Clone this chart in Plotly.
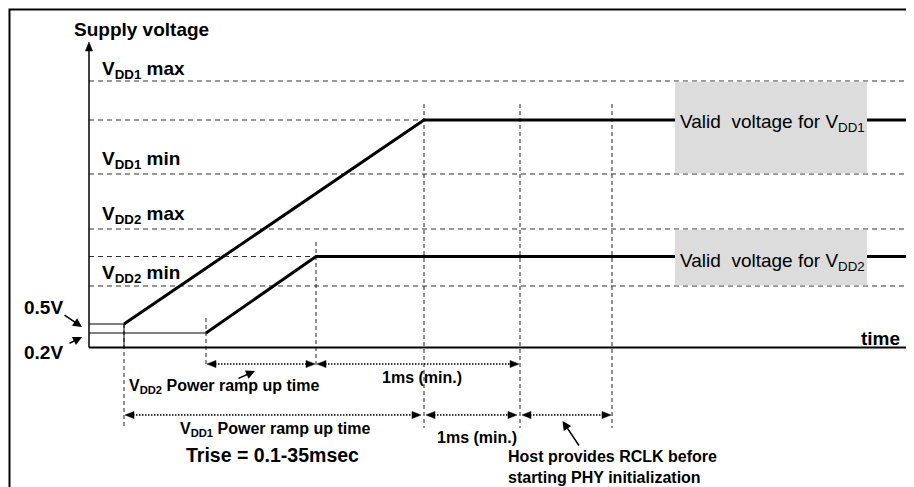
import plotly.graph_objects as go

# time marks, in diagram units measured from the voltage axis
t_vdd1_start = 35
t_vdd2_start = 117
t_vdd2_valid = 227
t_vdd1_valid = 335
t_host_start = 431
t_phy_init = 523
t_end = 825

# voltage levels, in diagram units above 0 V
level_names = ["0.2V", "0.5V", "VDD2 min", "VDD2", "VDD2 max", "VDD1 min", "VDD1", "VDD1 max"]
level_values = [14.5, 23.5, 61.5, 91, 118.5, 173.5, 227.5, 266.5]
lv = dict(zip(level_names, level_values))
v_axis_top = 305.5

# supply ramps
vdd1_t = [t_vdd1_start, t_vdd1_valid, t_end]
vdd1_v = [lv["0.5V"], lv["VDD1"], lv["VDD1"]]
vdd2_t = [t_vdd2_start, t_vdd2_valid, t_end]
vdd2_v = [lv["0.2V"], lv["VDD2"], lv["VDD2"]]

FONT = "Liberation Sans, Arial, sans-serif"
ROW1 = -16.5
ROW2 = -67.5
HEAD_LEN = 9
HEAD_HALF = 3.6

fig = go.Figure()
shapes = []
annotations = []

# dashed level guides
for name in ["VDD2 min", "VDD2", "VDD2 max", "VDD1 min", "VDD1", "VDD1 max"]:
    shapes.append(dict(type="line", xref="x", yref="y", x0=0, x1=t_end, y0=lv[name], y1=lv[name],
                       line=dict(color="#333333", width=1, dash="5px,4px"), layer="below"))

# vertical timing guides (time, top, bottom)
guides = [
    (t_vdd1_start, lv["0.5V"], ROW2 - 13),
    (t_vdd2_start, lv["0.2V"] + 15, ROW1 - 1),
    (t_vdd2_valid, lv["VDD2"] + 14.5, ROW1 - 1),
    (t_vdd1_valid, lv["VDD1"] + 16, ROW2 - 13),
    (t_host_start, lv["VDD1"] + 16, ROW2 - 13),
    (t_phy_init, lv["VDD1"] + 16, ROW2 - 13),
]
for t, top, bot in guides:
    shapes.append(dict(type="line", xref="x", yref="y", x0=t, x1=t, y0=top, y1=bot,
                       line=dict(color="#222222", width=1, dash="4px,3px"), layer="below"))


def head(tip_x, tip_y, dx, dy):
    # filled arrow head, (dx, dy) is the unit direction it points to
    bx, by = tip_x - dx * HEAD_LEN, tip_y - dy * HEAD_LEN
    px, py = -dy * HEAD_HALF, dx * HEAD_HALF
    fig.add_trace(go.Scatter(x=[tip_x, bx + px, bx - px, tip_x], y=[tip_y, by + py, by - py, tip_y],
                             mode="lines", fill="toself", fillcolor="black",
                             line=dict(color="black", width=0.5), hoverinfo="skip"))


# thin boxes marking 0.5 V / 0.2 V
fig.add_trace(go.Scatter(x=[0, t_vdd1_start, t_vdd1_start], y=[lv["0.5V"], lv["0.5V"], 0],
                         mode="lines", line=dict(color="black", width=1), hoverinfo="skip"))
fig.add_trace(go.Scatter(x=[0, t_vdd2_start], y=[lv["0.2V"], lv["0.2V"]],
                         mode="lines", line=dict(color="black", width=1), hoverinfo="skip"))

# axes
fig.add_trace(go.Scatter(x=[0, t_end], y=[0, 0], mode="lines",
                         line=dict(color="black", width=2), hoverinfo="skip"))
fig.add_trace(go.Scatter(x=[0, 0], y=[0, v_axis_top - 6], mode="lines",
                         line=dict(color="black", width=1.5), hoverinfo="skip"))
head(0, v_axis_top, 0, 1)

# supply ramps
fig.add_trace(go.Scatter(x=vdd1_t, y=vdd1_v, mode="lines", line=dict(color="black", width=3),
                         hoverinfo="skip"))
fig.add_trace(go.Scatter(x=vdd2_t, y=vdd2_v, mode="lines", line=dict(color="black", width=3),
                         hoverinfo="skip"))

# valid-voltage boxes
for lo, hi in [("VDD1 min", "VDD1 max"), ("VDD2 min", "VDD2 max")]:
    shapes.append(dict(type="rect", xref="x", yref="y", x0=586, x1=778, y0=lv[lo] + 0.7, y1=lv[hi] - 0.7,
                       fillcolor="#DCDCDC", line=dict(width=0), layer="above"))


def dim_arrow(t0, t1, v):
    fig.add_trace(go.Scatter(x=[t0 + HEAD_LEN - 1, t1 - HEAD_LEN + 1], y=[v, v], mode="lines",
                             line=dict(color="black", width=1.5, dash="1.5px,1.5px"), hoverinfo="skip"))
    head(t0, v, -1, 0)
    head(t1, v, 1, 0)


dim_arrow(t_vdd2_start + 1, t_vdd2_valid - 1, ROW1)
dim_arrow(t_vdd2_valid + 1, t_host_start - 1, ROW1)
dim_arrow(t_vdd1_start + 1, t_vdd1_valid - 3, ROW2)
dim_arrow(t_vdd1_valid + 2, t_host_start - 3, ROW2)
dim_arrow(t_host_start + 2, t_phy_init - 1, ROW2)


def label(x, y, text, size=19, bold=True, xanchor="left", color="black"):
    annotations.append(dict(x=x, y=y, xref="x", yref="y", text=f"<b>{text}</b>" if bold else text,
                            showarrow=False, xanchor=xanchor, yanchor="middle", align="left",
                            font=dict(family=FONT, size=size, color=color)))


def pointer(x0, y0, x1, y1):
    annotations.append(dict(x=x1, y=y1, ax=x0, ay=y0, xref="x", yref="y", axref="x", ayref="y",
                            text="", showarrow=True, arrowhead=2, arrowsize=1.2, arrowwidth=1.5,
                            arrowcolor="black"))


label(-17, 318.5, "Supply voltage")
label(11, 277.5, "V<sub>DD1</sub> max")
label(11, 187.5, "V<sub>DD1</sub> min")
label(11, 132.5, "V<sub>DD2</sub> max")
label(11, 73.5, "V<sub>DD2</sub> min")
label(-67, 40.5, "0.5V")
label(-67, -4.5, "0.2V")
label(813, 9.5, "time", xanchor="right")
label(589, 224.5, "Valid&nbsp; voltage for V<sub>DD1</sub>", bold=False)
label(589, 86, "Valid&nbsp; voltage for V<sub>DD2</sub>", bold=False)
label(38, -38.5, "V<sub>DD2</sub> Power ramp up time", size=16)
label(333, -29.5, "1ms (min.)", size=16, xanchor="center")
label(186, -82, "V<sub>DD1</sub> Power ramp up time", size=16, xanchor="center")
label(183, -107.5, "Trise = 0.1-35msec", size=19.5, xanchor="center")
label(388, -89.5, "1ms (min.)", size=16, xanchor="center")
label(417, -119, "Host provides RCLK before<br>starting PHY initialization", size=16)

pointer(-26, 33.5, -7, 20.5)
pointer(-21, 3.5, -7, 10.5)
pointer(148, -31.5, 166, -23.5)
pointer(491, -99.5, 473.5, -73.5)

# outer frame
shapes.append(dict(type="rect", xref="x", yref="y", x0=-79.5, x1=860, y0=338, y1=-170,
                   line=dict(color="black", width=2), fillcolor="rgba(0,0,0,0)", layer="above"))

# the page body adds an 8px margin, so the figure is drawn 8px smaller
fig.update_layout(
    width=906,
    height=479,
    margin=dict(l=0, r=0, t=0, b=0),
    plot_bgcolor="white",
    paper_bgcolor="white",
    showlegend=False,
    xaxis=dict(range=[-81, 825], visible=False, fixedrange=True),
    yaxis=dict(range=[-139.5, 339.5], visible=False, fixedrange=True),
    shapes=shapes,
    annotations=annotations,
)

fig.write_html("out.html")
